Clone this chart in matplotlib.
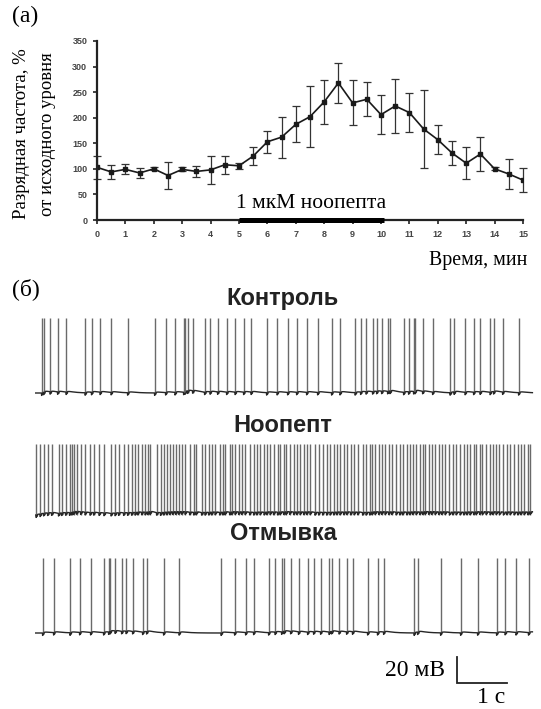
import matplotlib.pyplot as plt
import numpy as np

# panel (a): firing rate, % of baseline
minutes = [0, 0.5, 1, 1.5, 2, 2.5, 3, 3.5, 4, 4.5, 5, 5.5, 6, 6.5, 7, 7.5,
           8, 8.5, 9, 9.5, 10, 10.5, 11, 11.5, 12, 12.5, 13, 13.5, 14, 14.5, 15]
rate = [103, 94, 99, 92, 100, 87, 99, 95, 98, 108, 106, 125, 153, 162, 187, 202,
        231, 268, 229, 236, 206, 223, 210, 178, 157, 131, 111, 129, 100, 90, 78]
rate_err = [22, 14, 10, 9, 3, 26, 4, 11, 28, 18, 6, 18, 22, 40, 35, 60,
            43, 39, 44, 33, 38, 53, 38, 76, 28, 24, 31, 33, 3, 30, 23]
drug_on, drug_off = 5, 10.1

# panel (b): spike times, s
spikes_control = [0.13, 0.17, 0.30, 0.45, 0.62, 1.00, 1.13, 1.30, 1.52, 1.85, 2.39, 2.61,
                  2.80, 2.97, 3.00, 3.05, 3.15, 3.39, 3.50, 3.65, 3.83, 4.00, 4.17, 4.32,
                  4.63, 4.84, 5.05, 5.23, 5.43, 5.65, 5.93, 6.10, 6.40, 6.51, 6.62, 6.75,
                  6.83, 6.93, 7.05, 7.10, 7.37, 7.47, 7.57, 7.60, 7.75, 7.95, 8.30, 8.38,
                  8.60, 8.77, 8.90, 9.10, 9.17, 9.35, 9.67]
spikes_noopept = [0.02, 0.10, 0.17, 0.25, 0.33, 0.47, 0.53, 0.61, 0.69, 0.73, 0.77, 0.83,
                  0.91, 1.00, 1.10, 1.17, 1.28, 1.38, 1.52, 1.60, 1.67, 1.77, 1.85, 1.93,
                  2.00, 2.05, 2.13, 2.20, 2.25, 2.30, 2.43, 2.51, 2.57, 2.63, 2.69, 2.75,
                  2.81, 2.87, 2.93, 3.00, 3.09, 3.17, 3.22, 3.33,
                  3.40, 3.47, 3.53, 3.60, 3.69, 3.75, 3.80, 3.89, 3.93, 4.00, 4.07, 4.13,
                  4.20, 4.29, 4.37, 4.43, 4.50, 4.58, 4.63, 4.70, 4.77, 4.85, 4.90, 4.97,
                  5.02, 5.09, 5.17, 5.23, 5.30, 5.37, 5.43, 5.50, 5.60, 5.67, 5.75, 5.83,
                  5.90, 5.97, 6.03, 6.10, 6.17, 6.23, 6.31, 6.38, 6.45, 6.55, 6.62, 6.69,
                  6.74, 6.80, 6.87, 6.93, 7.00, 7.07, 7.13, 7.22, 7.29, 7.35, 7.43, 7.49,
                  7.55, 7.62, 7.69, 7.75, 7.80, 7.87, 7.93, 8.00, 8.07, 8.13, 8.20, 8.29,
                  8.35, 8.42, 8.50, 8.57, 8.63, 8.70, 8.77, 8.82, 8.89, 8.95, 9.02, 9.10,
                  9.15, 9.22, 9.29, 9.37, 9.43, 9.50, 9.58, 9.65, 9.71, 9.78, 9.85, 9.90]
spikes_washout = [0.15, 0.37, 0.70, 0.89, 1.11, 1.37, 1.47, 1.50, 1.60, 1.73, 1.82, 1.95,
                  2.15, 2.23, 2.57, 2.88, 3.72, 3.99, 4.21, 4.37, 4.67, 4.80, 4.93, 4.98,
                  5.11, 5.27, 5.45, 5.57, 5.71, 5.88, 5.93, 6.08, 6.23, 6.35, 6.65, 6.85,
                  6.97, 7.58, 7.65, 8.11, 8.51, 8.85, 9.23, 9.40, 9.62, 9.87]
trace_names = ['Контроль', 'Ноопепт', 'Отмывка']
spike_amp = [58, 55, 58]  # mV

serif = ['Liberation Serif', 'DejaVu Serif']
sans = ['Liberation Sans', 'DejaVu Sans']

W, H = 541, 709
fig = plt.figure(figsize=(W / 100, H / 100), dpi=100)

def fx(px):
    return px / W

def fy(py):
    return 1 - py / H

# ---- (a)
ax = fig.add_axes([fx(97), fy(220), fx(523) - fx(97), fy(41) - fy(220)])
eb = ax.errorbar(minutes, rate, yerr=rate_err, color='#1a1a1a', lw=1.2, marker='s', ms=2.6,
                 elinewidth=0.9, capsize=2.6, capthick=0.9, ecolor='#333333')
for art in eb.lines[1] + eb.lines[2]:
    art.set_clip_on(False)
ax.plot([drug_on, drug_off], [0, 0], color='black', lw=3.6, solid_capstyle='butt',
        clip_on=False, zorder=5)
ax.text((drug_on + drug_off) / 2, 13, '1 мкМ ноопепта', ha='center', va='bottom',
        fontsize=15.5, family=serif)
ax.set_xlim(0, 15)
ax.set_ylim(0, 350)
ax.set_xticks(range(0, 16))
ax.set_yticks(range(0, 351, 50))
for s in ['top', 'right']:
    ax.spines[s].set_visible(False)
for s in ['left', 'bottom']:
    ax.spines[s].set_linewidth(1.6)
    ax.spines[s].set_color('#222222')
ax.tick_params(direction='out', length=3, width=1.2, color='#222222', pad=4,
               labelsize=6.5, labelcolor='#444444')
for lab in ax.get_xticklabels() + ax.get_yticklabels():
    lab.set_fontweight('bold')
    lab.set_family(sans)

fig.text(fx(22), fy(134), 'Разрядная частота, %', rotation=90, ha='center', va='center',
         fontsize=13.5, family=serif)
fig.text(fx(48), fy(134), 'от исходного уровня', rotation=90, ha='center', va='center',
         fontsize=13.5, family=serif)
fig.text(fx(527), fy(260), 'Время, мин', ha='right', va='center', fontsize=14.3, family=serif)
fig.text(fx(12), fy(16), '(a)', ha='left', va='center', fontsize=17, family=serif)

# ---- (б)
px_per_mv = 1.3
bx = fig.add_axes([fx(35), fy(700), fx(535) - fx(35), fy(300) - fy(700)])
bx.set_xlim(0, 10)
bx.set_ylim(0, 400 / px_per_mv)
bx.axis('off')

t = np.arange(0, 9.95, 0.002)
baselines_px = [393, 515, 633]
title_px = [299, 426, 533]
for spikes, amp, base_px, name, ty in zip([spikes_control, spikes_noopept, spikes_washout],
                                         spike_amp, baselines_px, trace_names, title_px):
    base = (700 - base_px) / px_per_mv
    v = np.zeros_like(t)
    for ts in spikes:
        d = t - ts
        after = d > 0
        v[after] += -2.0 * np.exp(-d[after] / 0.03) + 1.4 * np.exp(-d[after] / 0.15) * (d[after] > 0.03)
    bx.vlines(spikes, base, base + amp, color='#6a6a6a', lw=1.0)
    bx.plot(t, base + v, color='#262626', lw=1.0)
    fig.text(fx(283), fy(ty), name, ha='center', va='center', fontsize=17,
             fontweight='bold', family=sans, color='#222222')

fig.text(fx(12), fy(289), '(б)', ha='left', va='center', fontsize=17, family=serif)

# scale bar: 20 mV, 1 s
sb_t, sb_v = 8.44, (700 - 683) / px_per_mv
bx.plot([sb_t, sb_t, sb_t + 1], [sb_v + 20, sb_v, sb_v], color='#222222', lw=1.3,
        solid_joinstyle='miter')
bx.text(sb_t - 0.24, sb_v + 10, '20 мВ', ha='right', va='center', fontsize=17, family=serif)
bx.text(sb_t + 0.68, sb_v - 11, '1 с', ha='center', va='center', fontsize=17, family=serif)

fig.savefig('out.png', dpi=100)
